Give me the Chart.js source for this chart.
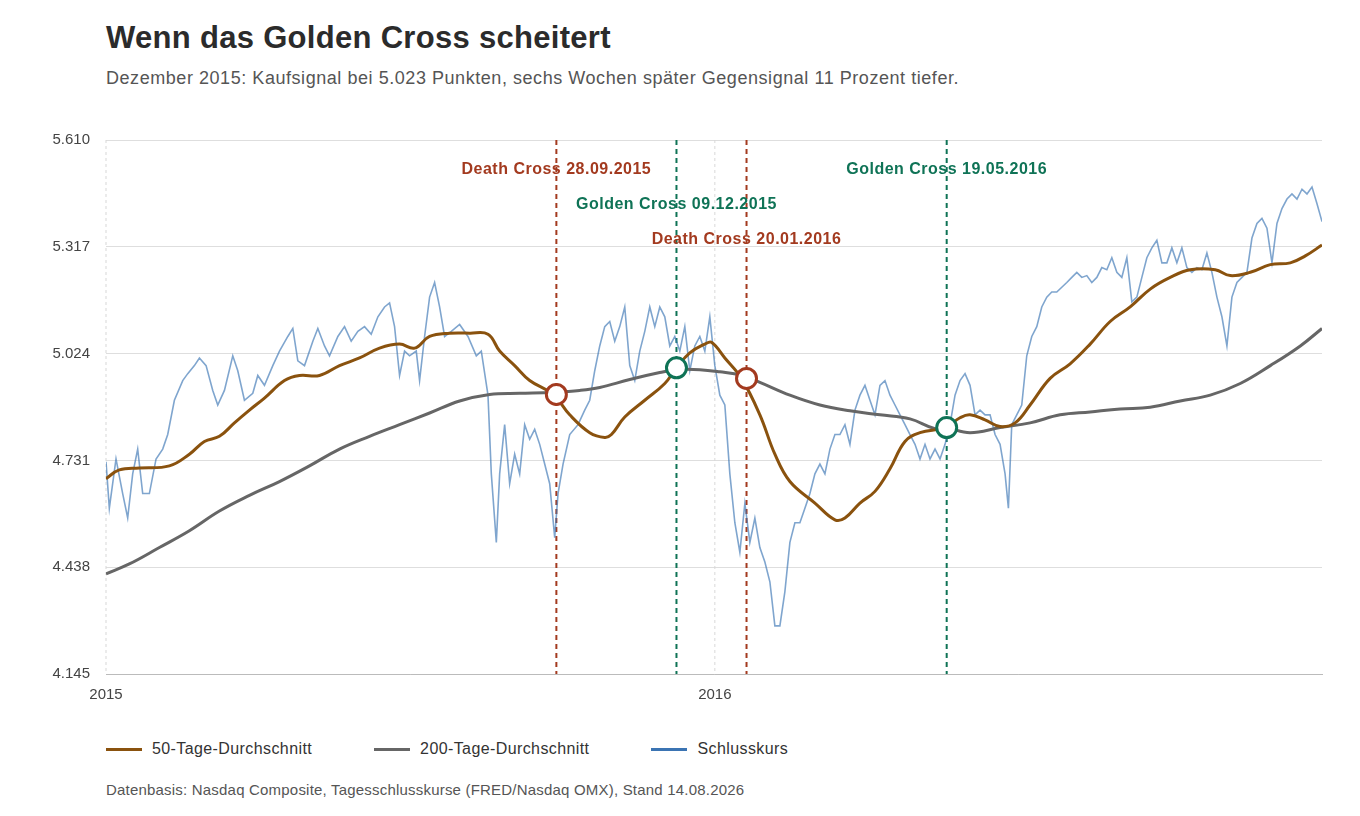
<!DOCTYPE html>
<html>
<head>
<meta charset="utf-8">
<script src="https://cdn.jsdelivr.net/npm/chart.js@4.4.1/dist/chart.umd.min.js"></script>
<style>
  body { margin: 0; width: 1360px; height: 816px; background: #fff; font-family: "Liberation Sans", Arial, sans-serif; position: relative; overflow: hidden; }
  h1 { position: absolute; left: 106px; top: 20px; margin: 0; font-size: 31px; font-weight: bold; color: #2b2b2b; letter-spacing: 0.3px; }
  .sub { position: absolute; left: 106px; top: 68px; font-size: 18px; color: #555; letter-spacing: 0.55px; }
  #wrap { position: absolute; left: 40px; top: 115px; width: 1300px; height: 585px; }
  .legend { position: absolute; left: 106px; top: 740px; font-size: 16px; color: #333; display: flex; letter-spacing: 0.4px; }
  .legend span { display: flex; align-items: center; margin-right: 62px; }
  .legend i { display: inline-block; width: 36px; height: 3px; margin-right: 10px; }
  .src { position: absolute; left: 106px; top: 781px; font-size: 15px; color: #555; letter-spacing: 0.2px; }
</style>
</head>
<body>
<h1>Wenn das Golden Cross scheitert</h1>
<div class="sub">Dezember 2015: Kaufsignal bei 5.023 Punkten, sechs Wochen später Gegensignal 11 Prozent tiefer.</div>
<div id="wrap"><canvas id="c"></canvas></div>
<div class="legend">
  <span><i style="background:#8a520e"></i>50-Tage-Durchschnitt</span>
  <span><i style="background:#666"></i>200-Tage-Durchschnitt</span>
  <span><i style="background:#3b74b3"></i>Schlusskurs</span>
</div>
<div class="src">Datenbasis: Nasdaq Composite, Tagesschlusskurse (FRED/Nasdaq OMX), Stand 14.08.2026</div>
<script>
// days since 01.01.2015
const closeDays = [0,2,6,10,13,16,19,22,26,30,34,37,41,46,49,53,56,60,64,67,71,76,79,83,88,91,95,100,104,109,112,115,119,124,127,131,134,139,143,147,151,155,159,163,167,170,173,176,179,182,186,188,191,194,197,200,203,207,212,217,222,225,229,231,234,236,239,242,245,248,251,254,257,260,263,266,269,271,274,278,283,287,290,293,296,299,302,305,308,311,314,317,320,323,326,329,332,335,338,341,344,347,350,353,356,359,362,365,368,371,374,377,380,383,386,389,392,395,398,401,404,407,410,413,416,419,422,425,428,431,434,437,440,443,446,449,452,455,458,461,464,467,470,473,476,479,482,485,488,491,494,497,500,503,506,509,512,515,518,521,524,527,530,533,536,539,541,543,546,549,552,555,558,561,564,567,570,573,576,579,582,585,588,591,594,597,600,603,606,609,612,615,618,621,624,627,630,633,636,639,642,645,648,651,654,657,660,663,666,669,672,675,678,681,684,687,690,693,696,699,702,705,708,711,714,717,720,723,726,729];
const closeValues = [4727,4600,4735,4640,4573,4694,4762,4640,4640,4735,4762,4802,4896,4950,4969,4991,5012,4991,4923,4883,4923,5018,4977,4896,4915,4964,4937,4991,5031,5071,5093,5004,4991,5058,5093,5045,5018,5071,5098,5058,5085,5098,5077,5125,5152,5163,5098,4964,5031,5018,5031,4950,5071,5179,5219,5152,5071,5085,5104,5071,5018,5031,4910,4694,4506,4694,4829,4667,4748,4694,4829,4789,4816,4775,4721,4667,4519,4640,4721,4802,4829,4869,4896,4977,5045,5098,5112,5058,5098,5152,4991,4950,5031,5085,5152,5098,5152,5125,5045,5071,5031,5098,4977,5045,5071,5031,5125,4991,4910,4883,4694,4560,4479,4613,4506,4573,4492,4452,4398,4277,4277,4371,4506,4560,4560,4600,4640,4694,4721,4694,4762,4802,4802,4829,4775,4869,4910,4937,4896,4856,4937,4950,4910,4883,4856,4829,4802,4775,4735,4775,4735,4762,4735,4775,4829,4910,4950,4969,4937,4856,4869,4856,4856,4802,4775,4694,4600,4829,4856,4883,5018,5071,5098,5152,5179,5193,5193,5206,5219,5233,5247,5233,5238,5219,5233,5260,5254,5287,5247,5233,5287,5166,5179,5233,5287,5314,5335,5273,5273,5314,5273,5314,5260,5247,5260,5254,5300,5247,5179,5125,5045,5179,5219,5233,5247,5341,5381,5395,5368,5273,5381,5422,5448,5462,5448,5475,5462,5481,5435,5386];
const ma50Days = [0,8,20,38,50,59,68,77,86,95,107,116,128,140,152,164,176,185,194,206,218,229,236,245,254,268,278,290,299,303,311,323,335,342,350,359,363,371,381,392,401,410,425,437,443,452,461,470,479,488,503,512,518,527,536,545,554,566,578,590,602,614,626,638,650,665,674,686,698,710,719,729];
const ma50Values = [4681,4705,4710,4716,4748,4783,4797,4834,4869,4902,4950,4964,4964,4991,5012,5039,5050,5039,5071,5080,5080,5077,5031,4991,4950,4912,4856,4807,4794,4802,4850,4896,4942,4985,5026,5050,5055,5012,4956,4856,4748,4673,4614,4568,4573,4614,4646,4708,4783,4807,4821,4848,4856,4842,4824,4834,4883,4956,4996,5050,5112,5152,5201,5233,5254,5254,5238,5247,5268,5273,5292,5322];
const ma200Days = [0,14,32,50,68,86,104,122,140,158,176,194,212,230,248,268,284,296,314,332,342,356,368,381,392,410,428,446,464,482,497,503,518,536,554,572,590,608,626,644,662,680,698,716,729];
const ma200Values = [4420,4447,4492,4538,4592,4635,4673,4716,4762,4797,4829,4861,4894,4912,4915,4918,4923,4931,4953,4972,4980,4980,4974,4964,4945,4910,4883,4867,4856,4845,4818,4821,4807,4821,4834,4856,4864,4872,4877,4894,4910,4942,4991,5045,5093];
const crossDays = [270, 342, 384, 504];
const crossValues = [4912, 4985, 4956, 4821];
const crossLabels = ['Death Cross 28.09.2015', 'Golden Cross 09.12.2015', 'Death Cross 20.01.2016', 'Golden Cross 19.05.2016'];
const crossKinds = ['death', 'golden', 'death', 'golden'];
const crossLabelValues = [5528, 5433, 5338, 5528];
const yearDays = [0, 365];
const yearLabels = ['2015', '2016'];
const yTicks = [4145, 4438, 4731, 5024, 5317, 5610];

const RED = '#a33a1f', GREEN = '#0f7356';
const pts = (xs, ys) => xs.map((x, i) => ({ x, y: ys[i] }));

const markerPlugin = {
  id: 'markers',
  beforeDatasetsDraw(chart) {
    const { ctx, chartArea: a, scales: { x } } = chart;
    ctx.save();
    ctx.lineWidth = 1;
    ctx.strokeStyle = '#d8d8d8';
    ctx.setLineDash([3, 3]);
    yearDays.forEach(d => {
      const px = x.getPixelForValue(d);
      ctx.beginPath(); ctx.moveTo(px, a.top); ctx.lineTo(px, a.bottom); ctx.stroke();
    });
    ctx.lineWidth = 2;
    ctx.setLineDash([5, 4]);
    crossDays.forEach((d, i) => {
      const px = x.getPixelForValue(d);
      ctx.strokeStyle = crossKinds[i] === 'death' ? RED : GREEN;
      ctx.beginPath(); ctx.moveTo(px, a.top); ctx.lineTo(px, a.bottom); ctx.stroke();
    });
    ctx.restore();
  },
  afterDatasetsDraw(chart) {
    const { ctx, scales: { x, y } } = chart;
    ctx.save();
    ctx.font = 'bold 16px "Liberation Sans", Arial, sans-serif';
    ctx.letterSpacing = '0.5px';
    ctx.textAlign = 'center';
    ctx.textBaseline = 'middle';
    crossDays.forEach((d, i) => {
      ctx.fillStyle = crossKinds[i] === 'death' ? RED : GREEN;
      ctx.fillText(crossLabels[i], x.getPixelForValue(d), y.getPixelForValue(crossLabelValues[i]));
    });
    ctx.restore();
  }
};

new Chart(document.getElementById('c'), {
  type: 'line',
  data: {
    datasets: [
      { label: 'Kreuz', data: pts(crossDays, crossValues), showLine: false, pointRadius: 10, pointHoverRadius: 10,
        pointBackgroundColor: '#fff', pointBorderWidth: 3,
        pointBorderColor: crossKinds.map(k => k === 'death' ? RED : GREEN), order: 0 },
      { label: '50-Tage-Durchschnitt', data: pts(ma50Days, ma50Values), borderColor: '#8a520e', borderWidth: 3, pointRadius: 0, tension: 0.4, order: 1 },
      { label: '200-Tage-Durchschnitt', data: pts(ma200Days, ma200Values), borderColor: '#666', borderWidth: 3, pointRadius: 0, tension: 0.4, order: 2 },
      { label: 'Schlusskurs', data: pts(closeDays, closeValues), borderColor: 'rgba(59,116,179,0.65)', borderWidth: 1.6, pointRadius: 0, tension: 0, order: 3 }
    ]
  },
  options: {
    responsive: true,
    maintainAspectRatio: false,
    animation: false,
    layout: { padding: { top: 0, right: 18 } },
    plugins: { legend: { display: false }, tooltip: { enabled: false } },
    scales: {
      x: {
        type: 'linear', min: 0, max: 729,
        afterBuildTicks: s => { s.ticks = yearDays.map(v => ({ value: v })); },
        afterFit: s => { s.height = 26; },
        ticks: { callback: v => yearLabels[yearDays.indexOf(v)], color: '#444', font: { size: 15 }, maxRotation: 0, padding: 4 },
        grid: { display: false },
        border: { display: true, color: '#bbb' }
      },
      y: {
        min: 4145, max: 5610,
        afterBuildTicks: s => { s.ticks = yTicks.map(v => ({ value: v })); },
        afterFit: s => { s.width = 66; },
        ticks: { callback: v => v.toLocaleString('de-DE'), color: '#444', font: { size: 15 }, padding: 16 },
        grid: { color: '#dedede', drawTicks: false },
        border: { display: false }
      }
    }
  },
  plugins: [markerPlugin]
});
</script>
</body>
</html>
